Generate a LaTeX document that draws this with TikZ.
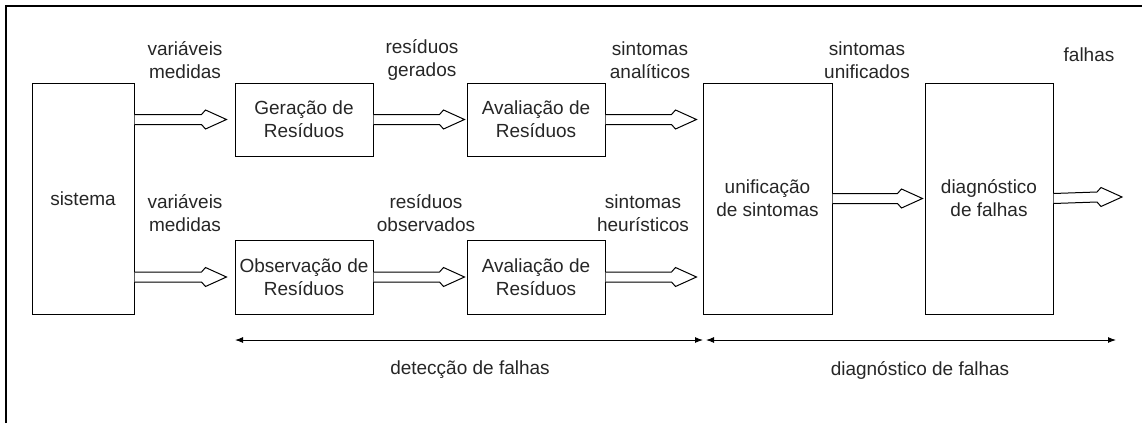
\documentclass[tikz,border=0pt]{standalone}
\usepackage{fontspec}
\setmainfont{Liberation Sans}
\usetikzlibrary{calc,arrows.meta}

% hollow block arrow: [gap]{start}{target}
\newcommand{\fatarrow}[3][5]{%
\draw[fill=white] ($(#2)+(0,5)$) -- ($(#3)+(-#1-25,5)$) -- ($(#3)+(-#1-21,9.5)$)
  -- ($(#3)+(-#1,0)$) -- ($(#3)+(-#1-21,-9.5)$) -- ($(#3)+(-#1-25,-5)$) -- ($(#2)+(0,-5)$);}

\begin{document}
\begin{tikzpicture}[x=1pt,y=-1pt,line width=1pt,
  every node/.style={font=\fontsize{19}{23}\selectfont,text=black!85,align=center},
  blk/.style={draw,inner sep=0pt}]
\useasboundingbox (0,0) rectangle (1142,423);
\draw[line width=2pt] (6,423) -- (6,6) -- (1142,6);

\node[blk,minimum width=102,minimum height=231] (s) at (83,198.5) {sistema};
\node[blk,minimum width=138,minimum height=73] (g) at (304,119.5) {Geração de\\Resíduos};
\node[blk,minimum width=138,minimum height=73] (a1) at (536,119.5) {Avaliação de\\Resíduos};
\node[blk,minimum width=138,minimum height=74] (o) at (304,277) {Observação de\\Resíduos};
\node[blk,minimum width=138,minimum height=74] (a2) at (536,277) {Avaliação de\\Resíduos};
\node[blk,minimum width=129,minimum height=231] (u) at (767.5,198.5) {unificação\\de sintomas};
\node[blk,minimum width=128,minimum height=231] (d) at (989,198.5) {diagnóstico\\de falhas};
\coordinate (f) at (1127,197);

\fatarrow[8]{s.east |- g.west}{g.west}
\fatarrow[2]{g.east}{a1.west}
\fatarrow[6]{a1.east}{u.west |- a1.east}
\fatarrow[8]{s.east |- o.west}{o.west}
\fatarrow[2]{o.east}{a2.west}
\fatarrow[6]{a2.east}{u.west |- a2.east}
\fatarrow[2]{u.east}{d.west}
\fatarrow{d.east}{f}

\node (l1) at (185,60) {variáveis\\medidas};
\node (l2) at (422,60) {resíduos\\gerados};
\node (l3) at (650,60) {sintomas\\analíticos};
\node (l4) at (867,60) {sintomas\\unificados};
\node (l5) at (1089,55) {falhas};
\node (l6) at (185,213) {variáveis\\medidas};
\node (l7) at (426,213) {resíduos\\observados};
\node (l8) at (643,213) {sintomas\\heurísticos};

\coordinate (d0) at (235,340);
\coordinate (d1) at (703,340);
\coordinate (d2) at (706,340);
\coordinate (d3) at (1116,340);
\draw[{Latex[length=8pt,width=6pt]}-{Latex[length=8pt,width=6pt]}] (d0) -- (d1);
\draw[{Latex[length=8pt,width=6pt]}-{Latex[length=8pt,width=6pt]}] (d2) -- (d3);
\node (t1) at (470,370) {detecção de falhas};
\node (t2) at (920,370) {diagnóstico de falhas};

\end{tikzpicture}
\end{document}
